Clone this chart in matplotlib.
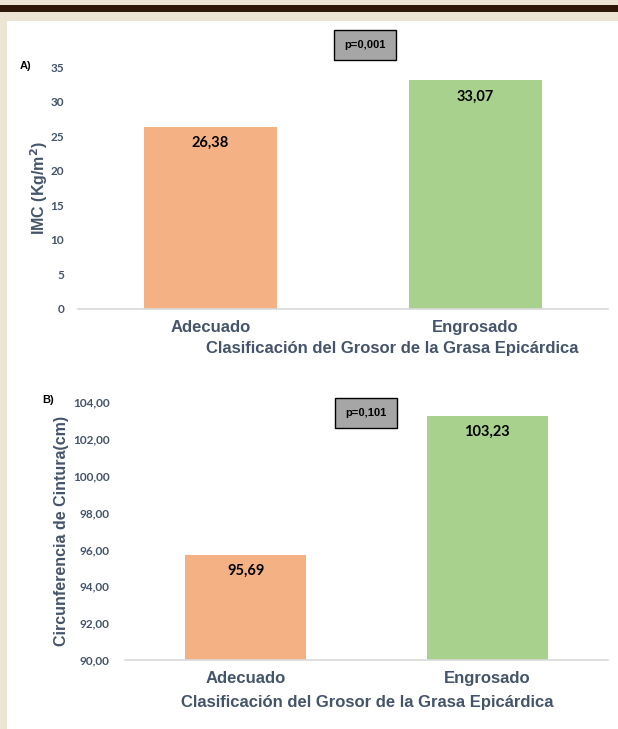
import matplotlib
matplotlib.use("Agg")
import matplotlib.pyplot as plt
from matplotlib.patches import Rectangle
from matplotlib.ticker import FixedLocator, FuncFormatter

categories = ["Adecuado", "Engrosado"]
imc_values = [26.38, 33.07]
imc_labels = ["26,38", "33,07"]
imc_ticks = [0, 5, 10, 15, 20, 25, 30, 35]
cint_values = [95.69, 103.23]
cint_labels = ["95,69", "103,23"]
cint_ticks = [90, 92, 94, 96, 98, 100, 102, 104]
bar_colors = ["#F4B183", "#A9D18E"]
p_a = "p=0,001"
p_b = "p=0,101"
xlabel = "Clasificación del Grosor de la Grasa Epicárdica"

W, H = 618, 729
fig = plt.figure(figsize=(W / 100, H / 100), dpi=100)
fig.patch.set_facecolor("#EDE4D4")

def px(x0, y0, x1, y1):
    return [x0 / W, 1 - y1 / H, (x1 - x0) / W, (y1 - y0) / H]

# decorative band and white panel
fig.patches.append(Rectangle((0, 1 - 12 / H), 1, 7 / H, transform=fig.transFigure,
                             facecolor="#2E1709", edgecolor="none", zorder=-10))
fig.patches.append(Rectangle((7 / W, 0), 1 - 7 / W, 1 - 21 / H, transform=fig.transFigure,
                             facecolor="white", edgecolor="none", zorder=-10))

tick_col = "#44546A"
sans = ["Liberation Sans", "DejaVu Sans"]
calib = ["Lato", "DejaVu Sans"]

def style(ax, ticks, fmt, pad):
    for s in ["top", "right", "left"]:
        ax.spines[s].set_visible(False)
    ax.spines["bottom"].set_color("#D9D9D9")
    ax.spines["bottom"].set_linewidth(1.2)
    ax.set_facecolor("none")
    ax.yaxis.set_major_locator(FixedLocator(ticks))
    ax.yaxis.set_major_formatter(FuncFormatter(fmt))
    ax.tick_params(axis="y", length=0, pad=pad, labelcolor=tick_col, labelsize=8.5)
    ax.tick_params(axis="x", length=0, pad=8, labelcolor=tick_col, labelsize=12)
    for lab in ax.get_yticklabels():
        lab.set_fontfamily(calib)
        lab.set_fontweight("bold")
    for lab in ax.get_xticklabels():
        lab.set_fontfamily(sans)
        lab.set_fontweight("bold")

# Panel A
axA = fig.add_axes(px(78, 67, 608, 309))
xs = list(range(len(categories)))
axA.bar(xs, imc_values, width=0.5, color=bar_colors, zorder=2)
axA.set_xlim(-0.5, 1.5)
axA.set_ylim(0, 35)
axA.set_xticks(xs)
axA.set_xticklabels(categories)
style(axA, imc_ticks, lambda v, p: f"{int(v)}", 10)
for x, v, t in zip(xs, imc_values, imc_labels):
    axA.annotate(t, (x, v), xytext=(0, -12), textcoords="offset points",
                 ha="center", va="center", fontsize=10.5, fontweight="bold",
                 family=calib, color="black")
axA.set_ylabel("IMC (Kg/m$^{\\mathbf{2}}$)", fontsize=11.5, fontweight="bold",
               color=tick_col, family=sans, labelpad=0)
fig.text(392 / W, 1 - 349 / H, xlabel, ha="center", va="center", fontsize=12,
         fontweight="bold", color=tick_col, family=sans)
fig.text(20 / W, 1 - 66 / H, "A)", ha="left", va="center", fontsize=8,
         fontweight="bold", color="black", family=sans)
fig.text(365 / W, 1 - 45 / H, p_a, ha="center", va="center", fontsize=8,
         fontweight="bold", color="black", family=sans,
         bbox=dict(boxstyle="square,pad=0.9", facecolor="#A6A6A6",
                   edgecolor="black", linewidth=1))

# Panel B
axB = fig.add_axes(px(125, 402, 608, 660))
axB.bar(xs, cint_values, width=0.5, color=bar_colors, zorder=2)
axB.set_xlim(-0.5, 1.5)
axB.set_ylim(90, 104)
axB.set_xticks(xs)
axB.set_xticklabels(categories)
style(axB, cint_ticks, lambda v, p: f"{v:.2f}".replace(".", ","), 11)
for x, v, t in zip(xs, cint_values, cint_labels):
    axB.annotate(t, (x, v), xytext=(0, -11), textcoords="offset points",
                 ha="center", va="center", fontsize=10.5, fontweight="bold",
                 family=calib, color="black")
axB.set_ylabel("Circunferencia de Cintura(cm)", fontsize=11.5, fontweight="bold",
               color=tick_col, family=sans, labelpad=3)
fig.text(367 / W, 1 - 703 / H, xlabel, ha="center", va="center", fontsize=12,
         fontweight="bold", color=tick_col, family=sans)
fig.text(42 / W, 1 - 400 / H, "B)", ha="left", va="center", fontsize=8,
         fontweight="bold", color="black", family=sans)
fig.text(366 / W, 1 - 413 / H, p_b, ha="center", va="center", fontsize=8,
         fontweight="bold", color="black", family=sans,
         bbox=dict(boxstyle="square,pad=0.9", facecolor="#A6A6A6",
                   edgecolor="black", linewidth=1))

fig.savefig("out.png", dpi=100, facecolor=fig.get_facecolor())
